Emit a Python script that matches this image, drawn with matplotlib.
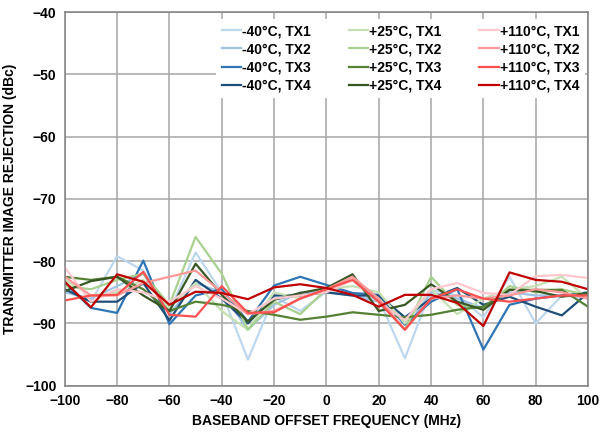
import numpy as np
import matplotlib.pyplot as plt

plt.rcParams['font.family'] = ['Liberation Sans', 'DejaVu Sans']
plt.rcParams['font.weight'] = 'bold'

# baseband offset frequency (MHz)
freq = [-100, -90, -80, -70, -60, -50, -40, -30, -20, -10, 0,
        10, 20, 30, 40, 50, 60, 70, 80, 90, 100]

# image rejection (dBc)
m40_tx1 = [-84.5, -86.5, -79.2, -81.5, -88.0, -78.6, -85.0, -95.8, -85.7, -88.0, -84.9,
           -85.5, -86.0, -95.6, -84.6, -85.5, -89.0, -82.5, -90.0, -85.5, -86.0]
m40_tx2 = [-85.0, -86.0, -84.0, -82.0, -88.5, -83.5, -85.0, -91.0, -87.0, -85.0, -85.0,
           -85.5, -86.5, -91.0, -85.0, -86.0, -87.5, -85.0, -85.5, -85.5, -85.5]
m40_tx3 = [-83.5, -87.5, -88.3, -79.9, -90.1, -85.5, -84.5, -89.7, -83.9, -82.5, -83.8,
           -85.1, -85.4, -90.2, -86.5, -84.5, -94.2, -87.0, -86.0, -85.5, -85.0]
m40_tx4 = [-84.5, -86.5, -86.5, -83.5, -89.5, -83.0, -86.0, -90.0, -85.5, -85.5, -85.0,
           -85.5, -85.5, -89.0, -86.0, -84.3, -87.0, -85.7, -87.3, -88.7, -85.1]
p25_tx1 = [-83.0, -85.5, -85.0, -83.0, -87.5, -83.5, -88.0, -91.0, -85.0, -86.0, -84.5,
           -84.0, -85.0, -90.0, -84.5, -88.5, -86.0, -84.5, -84.0, -82.5, -86.0]
p25_tx2 = [-84.0, -84.5, -83.0, -82.0, -87.0, -76.1, -82.0, -91.0, -86.5, -88.5, -84.5,
           -83.0, -86.5, -91.0, -82.5, -87.0, -87.5, -84.0, -85.0, -84.5, -85.5]
p25_tx3 = [-82.5, -83.0, -82.5, -84.5, -88.0, -86.5, -87.0, -88.0, -88.6, -89.4, -88.9,
           -88.2, -88.6, -89.0, -88.6, -87.8, -87.3, -84.6, -84.6, -84.6, -87.3]
p25_tx4 = [-84.8, -83.2, -82.5, -85.5, -88.0, -80.4, -85.4, -89.7, -86.2, -85.1, -84.3,
           -82.1, -88.0, -87.0, -83.7, -86.5, -87.8, -84.6, -84.8, -85.7, -85.1]
p110_tx1 = [-81.0, -86.5, -84.5, -85.0, -86.5, -84.0, -86.0, -88.5, -86.0, -85.5, -85.0,
            -83.0, -86.5, -89.5, -84.5, -83.5, -85.1, -85.4, -82.4, -82.2, -82.7]
p110_tx2 = [-82.5, -85.5, -85.5, -83.5, -82.5, -81.5, -85.0, -88.5, -88.0, -86.0, -84.5,
            -82.5, -86.0, -91.0, -86.0, -85.5, -86.0, -85.5, -84.5, -85.0, -86.0]
p110_tx3 = [-86.3, -85.5, -85.4, -81.7, -88.6, -88.9, -84.0, -88.3, -88.2, -86.0, -84.5,
            -83.0, -86.5, -91.0, -86.0, -84.5, -86.0, -86.5, -86.0, -85.5, -85.5]
p110_tx4 = [-83.3, -87.4, -82.1, -83.3, -87.0, -84.9, -85.1, -86.1, -84.2, -83.7, -84.3,
            -85.4, -87.3, -85.4, -85.4, -86.7, -90.4, -81.8, -83.0, -83.3, -84.5]

series = [
    ('-40°C, TX1', m40_tx1, '#bdd7ee'),
    ('-40°C, TX2', m40_tx2, '#9dc3e6'),
    ('-40°C, TX3', m40_tx3, '#2e75b6'),
    ('-40°C, TX4', m40_tx4, '#1f4e79'),
    ('+25°C, TX1', p25_tx1, '#c5e0b4'),
    ('+25°C, TX2', p25_tx2, '#a9d18e'),
    ('+25°C, TX3', p25_tx3, '#548235'),
    ('+25°C, TX4', p25_tx4, '#385723'),
    ('+110°C, TX1', p110_tx1, '#ffc7ce'),
    ('+110°C, TX2', p110_tx2, '#ff9999'),
    ('+110°C, TX3', p110_tx3, '#ff5050'),
    ('+110°C, TX4', p110_tx4, '#c00000'),
]

fig = plt.figure(figsize=(6, 4.32), dpi=100)
ax = fig.add_axes([0.108, 0.107, 0.872, 0.865])

for name, vals, col in series:
    ax.plot(freq, vals, color=col, lw=1.6, label=name)

ax.set_xlim(-100, 100)
ax.set_ylim(-100, -40)
ax.set_xticks(np.arange(-100, 101, 20))
ax.set_yticks(np.arange(-100, -39, 10))
ax.grid(True, color='#a6a6a6', lw=1.1)
ax.set_axisbelow(True)
for s in ax.spines.values():
    s.set_color('#808080')
    s.set_linewidth(1.1)
ax.tick_params(length=0, labelsize=10, pad=6)

ax.set_xlabel('BASEBAND OFFSET FREQUENCY (MHz)', fontsize=10, fontweight='bold', labelpad=4)
ax.set_ylabel('TRANSMITTER IMAGE REJECTION (dBc)', fontsize=10, fontweight='bold', labelpad=6)

leg = ax.legend(ncol=3, loc='upper right', bbox_to_anchor=(1.0, 0.99), fontsize=10,
                frameon=True, fancybox=False, edgecolor='none', framealpha=1,
                handlelength=1.4, handletextpad=0.1, columnspacing=2.7,
                labelspacing=0.3, borderaxespad=0.2)
for t in leg.get_texts():
    t.set_fontweight('bold')

fig.savefig('out.png', dpi=100)
